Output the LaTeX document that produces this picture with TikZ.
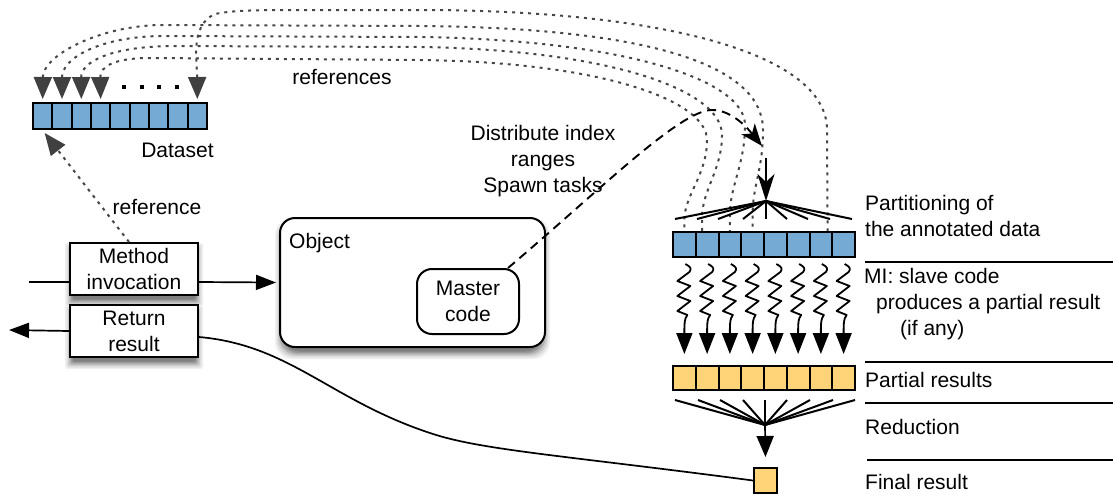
\documentclass[tikz,border=0pt]{standalone}
\usepackage{fontspec}
\setmainfont{Liberation Sans}
\usetikzlibrary{arrows.meta,calc,backgrounds}
\definecolor{cblue}{RGB}{117,170,212}
\definecolor{cyel}{RGB}{255,212,121}
\definecolor{refgray}{RGB}{70,70,70}
\definecolor{tipgray}{RGB}{64,64,64}
\begin{document}
\begin{tikzpicture}[x=1pt,y=-1pt,
  every node/.style={font=\fontsize{21}{26}\selectfont, inner sep=0pt},
  dcell/.style={draw, line width=2pt, fill=cblue, minimum width=19.33pt, minimum height=26pt},
  pcell/.style={draw, line width=2pt, fill=cblue, minimum width=22.75pt, minimum height=25pt},
  ycell/.style={draw, line width=2pt, fill=cyel, minimum width=22.75pt, minimum height=24pt},
  boxed/.style={draw, line width=2pt, fill=white, align=center},
  refline/.style={draw=refgray, line width=2pt, dash pattern=on 3pt off 5pt},
  dtip/.style={{Triangle[width=18pt,length=22pt,color=tipgray]}-},
  conn/.style={line width=1.7pt},
  sep/.style={line width=2pt},
  fan/.style={line width=2pt},
]
\useasboundingbox (0,0) rectangle (1113,496);

% ---------------- dataset ----------------
\foreach \i in {1,...,9} \node[dcell] (ds\i) at ({33+19.333*(\i-0.5)},116) {};
\foreach \xx in {124,142,159,177} \fill (\xx-2.2,84.8) rectangle (\xx+2.2,89.2);
\node (dslab) at (177.5,150) {Dataset};
\node (refs) at (342,77) {references};

% ---------------- partition rows ----------------
\foreach \i in {1,...,8} {
  \node[pcell] (p\i) at ({673+22.75*(\i-0.5)},244.5) {};
  \node[ycell] (y\i) at ({673+22.75*(\i-0.5)},378) {};
}
\node[ycell, minimum width=23pt, minimum height=25pt] (fin) at (765.5,480.5) {};

% ---------------- reference curves ----------------
\draw[refline, dtip] ([yshift=3pt]ds9.north) .. controls (197,60) and (190,25) .. (215,14)
  .. controls (235,10) and (260,10) .. (300,10) -- (420,10)
  .. controls (650,10) and (827,50) .. (827,130) -- ([xshift=-16pt]p8.north);
\draw[refline, dtip] ([yshift=3pt]ds1.north) .. controls (43,55) and (100,26) .. (160,25) -- (420,26)
  .. controls (650,28) and (763,65) .. (763,130) .. controls (763,170) and (752.6,185) .. (752.6,215) -- (p4.north);
\draw[refline, dtip] ([yshift=3pt]ds2.north) .. controls (62,58) and (100,37) .. (160,36) -- (420,37)
  .. controls (625,40) and (745,80) .. (745,125) .. controls (745,165) and (729.9,185) .. (729.9,215) -- (p3.north);
\draw[refline, dtip] ([yshift=3pt]ds3.north) .. controls (81,62) and (110,47) .. (170,46) -- (420,47)
  .. controls (610,50) and (722,90) .. (722,135) .. controls (722,170) and (702,190) .. (702,218) -- ([xshift=-5pt]p2.north);
\draw[refline, dtip] ([yshift=3pt]ds4.north) .. controls (100,66) and (115,58) .. (150,58) -- (420,60)
  .. controls (600,62) and (707,100) .. (707,140) .. controls (707,175) and (684.4,195) .. (684.4,220) -- (p1.north);

% ---------------- partitioning fan ----------------
\coordinate (apex) at (766,201);
\coordinate (atop) at (766,158);
\foreach \xx [count=\k] in {675,697,718,743,766,787,808,830,852} {
  \coordinate (f\k) at (\xx,219);
  \draw[fan] (apex) -- (f\k);
}
\draw[conn, -{Stealth[length=27pt,width=17pt,inset=8pt]}] (atop) -- (apex);

% ---------------- squiggly arrows ----------------
\foreach \i in {1,...,8} {
  \coordinate (s) at (p\i.south);
  \coordinate (t) at (y\i.north);
  \draw[line width=1.8pt, line join=round, -{Triangle[width=16pt,length=21pt]}]
    ($(s)+(1,6)$) .. controls ($(s)+(7,9)$) and ($(s)+(7,11)$) .. ($(s)+(5,14)$)
    -- ($(s)+(-7,23)$) -- ($(s)+(6,28)$) -- ($(s)+(-7,38)$) -- ($(s)+(6,43)$)
    -- ($(s)+(-7,53)$) -- ($(s)+(3,57)$)
    .. controls ($(s)+(0,61)$) and ($(s)+(0,65)$) .. ($(s)+(0,74)$) -- ($(t)+(0,-11)$);
}

% ---------------- reduction fan ----------------
\coordinate (rapex) at (765,425);
\foreach \xx [count=\k] in {675,698,720,743,765,787,810,833,855} {
  \coordinate (r\k) at (\xx,400);
  \draw[fan] (rapex) -- (r\k);
}
\draw[conn, -{Triangle[width=17pt,length=21pt]}] (rapex) -- ([yshift=10pt]fin.north);

% ---------------- right labels ----------------
\node[anchor=west, align=left] (lpart) at (865,216) {Partitioning of\\the annotated data};
\node[anchor=west, align=left] (lmi) at (864,304) {MI: slave code\\\hspace*{12pt}produces a partial result\\\hspace*{36pt}(if any)};
\node[anchor=west] (lpr) at (865,380) {Partial results};
\node[anchor=west] (lred) at (865,427) {Reduction};
\node[anchor=west] (lfin) at (865,482) {Final result};
\draw[sep] (865,262) -- (1113,262);
\draw[sep] (865,362) -- (1113,362);
\draw[sep] (865,403) -- (1113,403);
\draw[sep] (867,460) -- (1113,460);

% ---------------- left part ----------------
\node[boxed, rounded corners=15pt, minimum width=265pt, minimum height=129pt] (obj) at (412.5,282.5) {};
\node[anchor=west] (objlab) at (289,243) {Object};
\node[boxed, rounded corners=15pt, minimum width=102pt, minimum height=65pt] (mc) at (468,301.5) {Master\\code};
\node[boxed, minimum width=128pt, minimum height=52pt] (mi) at (134,269) {Method\\invocation};
\node[boxed, minimum width=128pt, minimum height=52pt] (rr) at (134,331) {Return\\result};

% soft drop shadows (layered)
\begin{pgfonlayer}{background}
  \foreach \n/\r in {obj/17pt, mi/2pt, rr/2pt} {
    \foreach \e/\c in {5/6, 3.5/12, 2/20, 0.5/30, -1/40, -2.5/50} {
      \fill[black!\c, rounded corners=\r]
        ($(\n.north west)+(-\e+1,-\e+6)$) rectangle ($(\n.south east)+(\e-1,\e+6)$);
    }
  }
\end{pgfonlayer}

\coordinate (inend) at (29,282);
\coordinate (retend) at (9,330);
\draw[conn] (inend) -- ([yshift=-13pt]mi.west);
\draw[conn, -{Triangle[length=20pt,width=15pt]}] ([yshift=-13pt]mi.east) -- ([xshift=-3pt]obj.west);
\draw[conn, -{Triangle[length=20pt,width=15pt]}] (rr.west) -- (retend);

\node (reflab) at (157,207) {reference};
\draw[refline, -{Triangle[width=18pt,length=22pt,color=tipgray]}] ([xshift=-5pt]mi.north) -- ([xshift=2pt,yshift=-3pt]ds1.south);

\node[align=center] (dist) at (543,161) {Distribute index\\ranges\\Spawn tasks};
\coordinate (dtipend) at (762,146);
\draw[line width=1.9pt, dash pattern=on 9pt off 6pt, -{Stealth[length=22pt,width=17pt,inset=6pt]}]
  ([xshift=-12pt]mc.north east) .. controls (600,190) and (680,110) .. (712,110)
  .. controls (730,110) and (745,125) .. (dtipend);

\draw[conn] ([yshift=-6pt]rr.east) .. controls (290,345) and (330,400) .. (430,433)
  .. controls (480,450) and (560,455) .. (fin.west);
\end{tikzpicture}
\end{document}
